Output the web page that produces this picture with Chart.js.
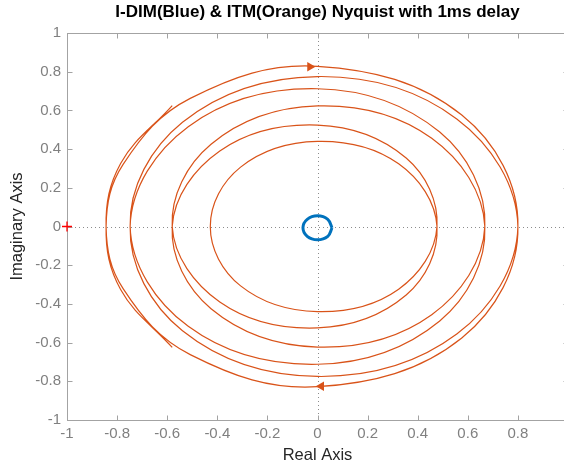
<!DOCTYPE html>
<html>
<head>
<meta charset="utf-8">
<script src="https://cdn.jsdelivr.net/npm/chart.js@4.4.1/dist/chart.umd.min.js"></script>
<style>
  html, body { margin: 0; padding: 0; background: #fff; overflow: hidden; }
</style>
</head>
<body>
<canvas id="nyqChart" width="600" height="469"></canvas>
<script>
// ticks
const xTicks = [-1, -0.8, -0.6, -0.4, -0.2, 0, 0.2, 0.4, 0.6, 0.8, 1];
const yTicks = [-1, -0.8, -0.6, -0.4, -0.2, 0, 0.2, 0.4, 0.6, 0.8, 1];

// ITM loop, one frequency branch (outer end -> Nyquist freq end)
const itmRe = [-0.580, -0.786, -0.844, -0.776, -0.508, 0, 0.576, 0.800, 0.556, 0,
    -0.539, -0.748, -0.516, 0, 0.488, 0.668, 0.456, 0, -0.425, -0.580, -0.390, 0,
    0.354, 0.477, 0.324, 0, -0.307, -0.428];
const itmIm = [0.625, 0.326, 0, -0.321, -0.662, -0.828, -0.576, 0, 0.556, 0.775,
    0.539, 0, -0.516, -0.712, -0.488, 0, 0.456, 0.623, 0.425, 0, -0.390, -0.524,
    -0.354, 0, 0.324, 0.440, 0.307, 0];

// I-DIM loop (small ring round the origin)
const idimRe = [0.058, 0.041, 0, -0.041, -0.058, -0.041, 0, 0.041, 0.058];
const idimIm = [-0.007, 0.037, 0.055, 0.037, -0.007, -0.051, -0.069, -0.051, -0.007];

// direction arrows and the -1 point
const arrowRe = [-0.03, 0.015];
const arrowIm = [0.826, -0.826];
const arrowRot = [90, -90];
const critRe = [-1];
const critIm = [0];

const orange = "#D95319";
const blue = "#0072BD";

// negative-frequency branch is the conjugate, drawn first then back out along the positive one
const itmPath = [];
for (let i = 0; i < itmRe.length; i++) itmPath.push({ x: itmRe[i], y: -itmIm[i] });
for (let i = itmRe.length - 2; i >= 0; i--) itmPath.push({ x: itmRe[i], y: itmIm[i] });

const idimPath = idimRe.map((v, i) => ({ x: v, y: idimIm[i] }));
const arrows = arrowRe.map((v, i) => ({ x: v, y: arrowIm[i] }));
const crit = critRe.map((v, i) => ({ x: v, y: critIm[i] }));

// MATLAB style box, inward ticks and dotted zero lines
const matlabAxes = {
    id: "matlabAxes",
    beforeDatasetsDraw(chart) {
        const { ctx, chartArea: a, scales } = chart;
        const x = scales.x, y = scales.y;
        ctx.save();
        ctx.lineWidth = 1;
        ctx.strokeStyle = "#8c8c8c";
        ctx.setLineDash([1, 3]);
        const x0 = Math.round(x.getPixelForValue(0)) + 0.5;
        const y0 = Math.round(y.getPixelForValue(0)) + 0.5;
        ctx.beginPath();
        ctx.moveTo(a.left, y0);
        ctx.lineTo(a.right, y0);
        ctx.moveTo(x0, a.top);
        ctx.lineTo(x0, a.bottom);
        ctx.stroke();
        ctx.setLineDash([]);

        ctx.strokeStyle = "#a3a3a3";
        const l = Math.round(a.left) + 0.5, r = Math.round(a.right) + 0.5;
        const t = Math.round(a.top) + 0.5, b = Math.round(a.bottom) + 0.5;
        ctx.strokeRect(l, t, r - l, b - t);
        const tl = 5;
        ctx.beginPath();
        x.ticks.forEach((tk) => {
            const px = Math.round(x.getPixelForValue(tk.value)) + 0.5;
            ctx.moveTo(px, b); ctx.lineTo(px, b - tl);
            ctx.moveTo(px, t); ctx.lineTo(px, t + tl);
        });
        y.ticks.forEach((tk) => {
            const py = Math.round(y.getPixelForValue(tk.value)) + 0.5;
            ctx.moveTo(l, py); ctx.lineTo(l + tl, py);
            ctx.moveTo(r, py); ctx.lineTo(r - tl, py);
        });
        ctx.stroke();
        ctx.restore();
    },
};

Chart.defaults.font.family = "'Liberation Sans', Arial, Helvetica, sans-serif";

new Chart(document.getElementById("nyqChart"), {
    type: "scatter",
    data: {
        datasets: [
            {
                label: "I-DIM",
                data: idimPath,
                showLine: true,
                borderColor: blue,
                borderWidth: 3,
                pointRadius: 0,
                tension: 0.38,
            },
            {
                label: "ITM",
                data: itmPath,
                showLine: true,
                borderColor: orange,
                borderWidth: 1.2,
                pointRadius: 0,
                tension: 0.38,
            },
            {
                label: "arrows",
                data: arrows,
                pointStyle: "triangle",
                rotation: arrowRot,
                pointRadius: 5.5,
                backgroundColor: orange,
                borderColor: orange,
                borderWidth: 0,
            },
            {
                label: "-1",
                data: crit,
                pointStyle: "cross",
                pointRadius: 5,
                borderColor: "#ff0000",
                borderWidth: 1.3,
                clip: false,
            },
        ],
    },
    options: {
        responsive: false,
        animation: false,
        layout: { padding: { left: 0, right: 32, top: 0, bottom: 0 } },
        plugins: {
            legend: { display: false },
            tooltip: { enabled: false },
            title: {
                display: true,
                text: "I-DIM(Blue) & ITM(Orange) Nyquist with 1ms delay",
                fullSize: false,
                color: "#000",
                font: { size: 17, weight: "bold" },
                padding: { top: 2, bottom: 10.6 },
            },
        },
        scales: {
            x: {
                type: "linear",
                min: -1,
                max: 1,
                grid: { display: false, drawTicks: false },
                border: { display: false },
                afterBuildTicks: (s) => { s.ticks = xTicks.map((v) => ({ value: v })); },
                afterFit: (s) => { s.height = 49; },
                ticks: {
                    color: "#808080",
                    font: { size: 15 },
                    padding: 5,
                    maxRotation: 0,
                    callback: (v) => String(v),
                },
                title: {
                    display: true,
                    text: "Real Axis",
                    color: "#262626",
                    font: { size: 16.5 },
                    padding: { top: 0, bottom: 4 },
                },
            },
            y: {
                type: "linear",
                min: -1,
                max: 1,
                grid: { display: false, drawTicks: false },
                border: { display: false },
                afterBuildTicks: (s) => { s.ticks = yTicks.map((v) => ({ value: v })); },
                afterFit: (s) => { s.width = 67; },
                ticks: {
                    color: "#808080",
                    font: { size: 15 },
                    padding: 6,
                    callback: (v) => String(v),
                },
                title: {
                    display: true,
                    text: "Imaginary Axis",
                    color: "#262626",
                    font: { size: 16.5 },
                    padding: { top: 8, bottom: 0 },
                },
            },
        },
    },
    plugins: [matlabAxes],
});
</script>
</body>
</html>
